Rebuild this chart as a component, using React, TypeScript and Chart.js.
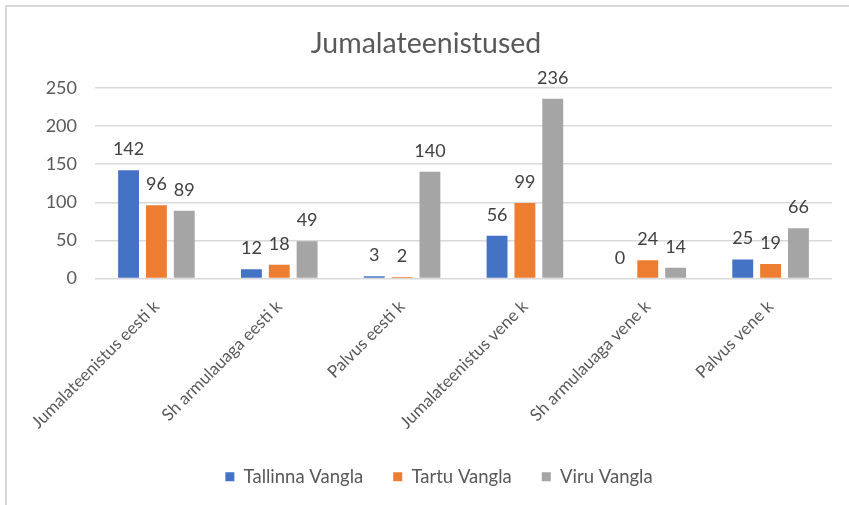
import React, { useEffect, useRef } from "react";
import { Chart, registerables } from "chart.js";

Chart.register(...registerables);

const title = "Jumalateenistused";
const categories = [
  "Jumalateenistus eesti k",
  "Sh armulauaga eesti k",
  "Palvus eesti k",
  "Jumalateenistus vene k",
  "Sh armulauaga vene k",
  "Palvus vene k",
];
const seriesNames = ["Tallinna Vangla", "Tartu Vangla", "Viru Vangla"];
const tallinn = [142, 12, 3, 56, 0, 25];
const tartu = [96, 18, 2, 99, 24, 19];
const viru = [89, 49, 140, 236, 14, 66];
const colors = ["#4472C4", "#ED7D31", "#A5A5A5"];
const yTicks = { min: 0, max: 250, step: 50 };

const FONT = "Lato, 'Liberation Sans', sans-serif";

const dataLabels = {
  id: "dataLabels",
  afterDatasetsDraw(chart: any) {
    const ctx = chart.ctx;
    ctx.save();
    ctx.font = `18px ${FONT}`;
    ctx.fillStyle = "#404040";
    ctx.textAlign = "center";
    ctx.textBaseline = "alphabetic";
    chart.data.datasets.forEach((ds: any, di: number) => {
      const meta = chart.getDatasetMeta(di);
      meta.data.forEach((el: any, i: number) => {
        ctx.fillText(String(ds.data[i]), el.x, el.y - 15);
      });
    });
    ctx.restore();
  },
};

const legendShift = {
  id: "legendShift",
  afterLayout(chart: any) {
    if (chart.legend) {
      chart.legend.left += 13;
      chart.legend.right += 13;
    }
  },
};

export default function App() {
  const ref = useRef<HTMLCanvasElement>(null);
  useEffect(() => {
    document.body.style.margin = "0";
    document.body.style.overflow = "hidden";
    const chart = new Chart(ref.current!, {
      type: "bar",
      data: {
        labels: categories,
        datasets: [tallinn, tartu, viru].map((d, i) => ({
          label: seriesNames[i],
          data: d,
          backgroundColor: colors[i],
          categoryPercentage: 0.68,
          barPercentage: 0.75,
        })),
      },
      options: {
        animation: false,
        responsive: false,
        layout: { padding: { left: 20, right: 17, top: 0, bottom: 9 } },
        plugins: {
          title: {
            display: true,
            text: title,
            color: "#595959",
            font: { family: FONT, size: 28.5, weight: "normal" },
            padding: { top: 27, bottom: 26.8 },
          },
          legend: {
            position: "bottom",
            labels: {
              color: "#595959",
              font: { family: FONT, size: 18.5 },
              boxWidth: 9,
              boxHeight: 9,
              padding: 30,
            },
          },
          tooltip: { enabled: false },
        },
        scales: {
          x: {
            grid: { display: false },
            border: { display: false },
            ticks: {
              color: "#595959",
              font: { family: FONT, size: 17 },
              maxRotation: 45,
              minRotation: 45,
              padding: 10,
            },
            afterFit: (s: any) => {
              s.height = 159;
            },
          },
          y: {
            min: yTicks.min,
            max: yTicks.max,
            grid: { color: "#d9d9d9", lineWidth: 1.5, drawTicks: false },
            border: { display: false },
            ticks: {
              stepSize: yTicks.step,
              color: "#595959",
              font: { family: FONT, size: 18 },
              padding: 18,
            },
            afterFit: (s: any) => {
              s.width = 75;
            },
          },
        },
      },
      plugins: [dataLabels, legendShift],
    });
    return () => chart.destroy();
  }, []);
  return (
    <div style={{ position: "relative", width: 849, height: 505, background: "#fff" }}>
      <div
        style={{
          position: "absolute",
          left: 5,
          top: 5,
          right: 0,
          bottom: 0,
          borderLeft: "2px solid #d9d9d9",
          borderTop: "2px solid #d9d9d9",
        }}
      />
      <canvas ref={ref} width={849} height={505} style={{ position: "absolute", left: 0, top: 0 }} />
    </div>
  );
}
